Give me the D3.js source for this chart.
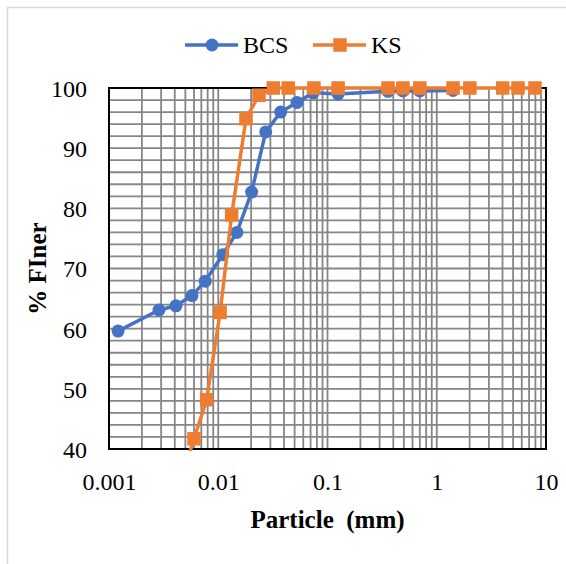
<!DOCTYPE html>
<html>
<head>
<meta charset="utf-8">
<script src="https://cdn.jsdelivr.net/npm/d3@7"></script>
<style>
  html, body { margin: 0; padding: 0; background: #fff; }
  svg { display: block; }
  text { font-family: "Liberation Serif", "Times New Roman", serif; fill: #000; }
</style>
</head>
<body>
<svg id="chart" width="566" height="564"></svg>
<script>
// Particle size distribution (hydrometer + sieve) for two soils
const bcsSize  = [0.00121, 0.00287, 0.0041, 0.00575, 0.0076, 0.011, 0.0148, 0.0202, 0.0272, 0.0373, 0.0526, 0.074, 0.125, 0.358, 0.49, 0.70, 1.41];
const bcsFiner = [59.6, 63.1, 63.8, 65.5, 67.9, 72.3, 76.0, 82.7, 92.7, 96.0, 97.6, 99.2, 99.0, 99.45, 99.5, 99.5, 99.6];

const ksSize  = [0.0048, 0.0060, 0.00783, 0.0104, 0.01327, 0.01795, 0.0236, 0.0319, 0.0437, 0.0751, 0.125, 0.358, 0.49, 0.70, 1.41, 2.01, 4.01, 5.54, 7.93];
const ksFiner = [36, 41.7, 48.2, 62.7, 78.9, 94.9, 98.8, 100, 100, 100, 100, 100, 100, 100, 100, 100, 100, 100, 100];

const xTicks = [0.001, 0.01, 0.1, 1, 10];
const xTickLabels = ["0.001", "0.01", "0.1", "1", "10"];
const yTicks = [40, 50, 60, 70, 80, 90, 100];

const seriesNames = ["BCS", "KS"];
const seriesColors = ["#4472C4", "#ED7D31"];

const svg = d3.select("#chart");
const W = 566, H = 564;
const plot = { left: 109, right: 546, top: 88, bottom: 449 };

// outer chart frame
svg.append("path")
  .attr("d", `M7.5,${H} V7.5 H${W}`)
  .attr("fill", "none")
  .attr("stroke", "#d9d9d9")
  .attr("stroke-width", 1.5);

const x = d3.scaleLog().domain([0.001, 10]).range([plot.left, plot.right]);
const y = d3.scaleLinear().domain([40, 100]).range([plot.bottom, plot.top]);

// gridlines: every decade subdivision on x, every 2 % on y
const xGrid = [];
for (let e = -3; e < 1; e++) {
  for (let m = 1; m <= 9; m++) xGrid.push(m * Math.pow(10, e));
}
const yGrid = d3.range(42, 100, 2);

const grid = svg.append("g").attr("stroke", "#868686").attr("stroke-width", 1.8);
grid.selectAll("line.gx").data(xGrid.filter(v => v > 0.001)).join("line")
  .attr("x1", d => x(d)).attr("x2", d => x(d))
  .attr("y1", plot.top).attr("y2", plot.bottom);
grid.selectAll("line.gy").data(yGrid).join("line")
  .attr("x1", plot.left).attr("x2", plot.right)
  .attr("y1", d => y(d)).attr("y2", d => y(d));

// plot border
svg.append("rect")
  .attr("x", plot.left).attr("y", plot.top)
  .attr("width", plot.right - plot.left).attr("height", plot.bottom - plot.top)
  .attr("fill", "none").attr("stroke", "#000").attr("stroke-width", 2);

// axes (labels only; ticks hidden)
const xAxis = d3.axisBottom(x).tickValues(xTicks)
  .tickFormat((d, i) => xTickLabels[i]).tickSize(0).tickPadding(0);
const gx = svg.append("g").attr("transform", `translate(0,${plot.bottom})`).call(xAxis);
gx.select(".domain").remove();
gx.selectAll("text")
  .attr("y", 41).attr("dy", null)
  .style("font-family", '"Liberation Serif", serif').style("font-size", "24px").attr("fill", "#000");

const yAxis = d3.axisLeft(y).tickValues(yTicks).tickSize(0).tickPadding(0);
const gy = svg.append("g").attr("transform", `translate(${plot.left},0)`).call(yAxis);
gy.select(".domain").remove();
gy.selectAll("text")
  .attr("x", -22).attr("dy", "0.35em")
  .style("font-family", '"Liberation Serif", serif').style("font-size", "24px").attr("fill", "#000");

// axis titles
svg.append("text")
  .attr("x", (plot.left + plot.right) / 2).attr("y", 528)
  .attr("text-anchor", "middle")
  .style("font-size", "25px").style("font-weight", "bold")
  .style("white-space", "pre").attr("xml:space", "preserve")
  .text("Particle  (mm)");
svg.append("text")
  .attr("transform", `translate(46,${(plot.top + plot.bottom) / 2}) rotate(-90)`)
  .attr("text-anchor", "middle")
  .style("font-size", "25px").style("font-weight", "bold")
  .text("% FIner");

// clip lines to plot area
svg.append("clipPath").attr("id", "plotClip").append("rect")
  .attr("x", plot.left).attr("y", plot.top - 4)
  .attr("width", plot.right - plot.left).attr("height", plot.bottom - plot.top + 6);

const line = d3.line().x(d => x(d[0])).y(d => y(d[1]));
const inDomain = d => d[1] >= 40 && d[1] <= 100;

const bcs = bcsSize.map((s, i) => [s, bcsFiner[i]]);
const ks = ksSize.map((s, i) => [s, ksFiner[i]]);

// BCS: circles
svg.append("path").datum(bcs).attr("d", line)
  .attr("clip-path", "url(#plotClip)")
  .attr("fill", "none").attr("stroke", seriesColors[0]).attr("stroke-width", 3.5)
  .attr("stroke-linejoin", "round");
svg.append("g").selectAll("circle").data(bcs.filter(inDomain)).join("circle")
  .attr("cx", d => x(d[0])).attr("cy", d => y(d[1])).attr("r", 6.5)
  .attr("fill", seriesColors[0]);

// KS: squares
const sq = 13.5;
svg.append("path").datum(ks).attr("d", line)
  .attr("clip-path", "url(#plotClip)")
  .attr("fill", "none").attr("stroke", seriesColors[1]).attr("stroke-width", 3.5)
  .attr("stroke-linejoin", "round");
svg.append("g").selectAll("rect").data(ks.filter(inDomain)).join("rect")
  .attr("x", d => x(d[0]) - sq / 2).attr("y", d => y(d[1]) - sq / 2)
  .attr("width", sq).attr("height", sq)
  .attr("fill", seriesColors[1]);

// legend
const legend = svg.append("g").attr("transform", "translate(0,45)");
const legendItems = [
  { x0: 185, name: seriesNames[0], color: seriesColors[0], shape: "circle" },
  { x0: 313, name: seriesNames[1], color: seriesColors[1], shape: "square" }
];
legendItems.forEach(it => {
  const g = legend.append("g");
  g.append("line").attr("x1", it.x0).attr("x2", it.x0 + 53).attr("y1", 0).attr("y2", 0)
    .attr("stroke", it.color).attr("stroke-width", 3.5);
  if (it.shape === "circle") {
    g.append("circle").attr("cx", it.x0 + 27).attr("cy", 0).attr("r", 6.5).attr("fill", it.color);
  } else {
    g.append("rect").attr("x", it.x0 + 27 - sq / 2).attr("y", -sq / 2)
      .attr("width", sq).attr("height", sq).attr("fill", it.color);
  }
  g.append("text").attr("x", it.x0 + 58).attr("y", 0).attr("dy", "0.35em")
    .style("font-size", "24px").text(it.name);
});
</script>
</body>
</html>
